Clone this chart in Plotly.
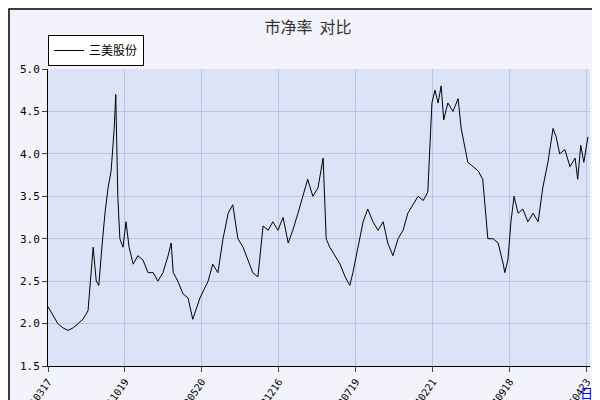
import plotly.graph_objects as go

# trading-day index and 市净率 values
day = [0, 10, 19, 29, 39, 49, 58, 68, 78, 82, 88, 94, 99, 105, 111, 117, 123, 129, 132, 136,
       140, 146, 152, 158, 166, 175, 185, 195, 205, 214, 224, 234, 240, 244, 253, 263, 273, 282, 288, 296,
       304, 312, 321, 331, 341, 351, 360, 370, 380, 390, 399, 409, 419, 429, 438, 448, 458, 468, 477, 487,
       497, 506, 516, 526, 536, 542, 549, 559, 569, 579, 588, 594, 604, 614, 623, 633, 643, 653, 662, 672,
       682, 692, 701, 711, 721, 731, 740, 748, 754, 760, 766, 771, 779, 789, 799, 805, 812, 818, 828, 838,
       847, 853, 857, 867, 877, 887, 890, 896, 902, 908, 916, 925, 935, 945, 955, 964, 974, 984, 990, 997,
       1007, 1017, 1027, 1032, 1038, 1044, 1052]
pb = [2.2, 2.1, 2.0, 1.95, 1.92, 1.95, 2.0, 2.05, 2.15, 2.5, 2.9, 2.5, 2.45, 2.9, 3.3, 3.6, 3.8, 4.3, 4.7, 3.5,
      3.0, 2.9, 3.2, 2.9, 2.7, 2.8, 2.75, 2.6, 2.6, 2.5, 2.6, 2.8, 2.95, 2.6, 2.5, 2.35, 2.3, 2.05, 2.15, 2.3,
      2.4, 2.5, 2.7, 2.6, 3.0, 3.3, 3.4, 3.0, 2.9, 2.75, 2.6, 2.55, 3.15, 3.1, 3.2, 3.1, 3.25, 2.95, 3.1, 3.3,
      3.5, 3.7, 3.5, 3.6, 3.95, 3.0, 2.9, 2.8, 2.7, 2.55, 2.45, 2.6, 2.9, 3.2, 3.35, 3.2, 3.1, 3.2, 2.95, 2.8,
      3.0, 3.1, 3.3, 3.4, 3.5, 3.45, 3.55, 4.6, 4.75, 4.6, 4.8, 4.4, 4.6, 4.5, 4.65, 4.3, 4.1, 3.9, 3.85, 3.8,
      3.7, 3.3, 3.0, 3.0, 2.95, 2.7, 2.6, 2.75, 3.2, 3.5, 3.3, 3.35, 3.2, 3.3, 3.2, 3.6, 3.9, 4.3, 4.2, 4.0,
      4.05, 3.85, 3.95, 3.7, 4.1, 3.9, 4.2]
tick_pos = [0, 150, 300, 450, 600, 750, 900, 1050]
tick_lab = ["20210317", "20211019", "20220520", "20221216", "20230719", "20240221", "20240918", "20250423"]

fig = go.Figure()
fig.add_trace(go.Scatter(x=day, y=pb, mode="lines", name="三美股份",
                         line=dict(color="black", width=1)))

fig.update_layout(
    width=600, height=400,
    margin=dict(l=40, r=18, t=61, b=42, autoexpand=False),
    paper_bgcolor="#f3f4fb", plot_bgcolor="#dde3f6",
    font=dict(family="DejaVu Sans Mono", size=11, color="black"),
    title=dict(text="市净率  对比", x=0.5, y=0.965, xanchor="center",
               font=dict(family="Noto Sans CJK SC", size=16, color="#333")),
    showlegend=True,
    legend=dict(x=0, y=1.01, xanchor="left", yanchor="bottom", bgcolor="white",
                bordercolor="black", borderwidth=1, itemwidth=30,
                font=dict(family="Noto Sans CJK SC", size=12)),
    xaxis=dict(range=[0, 1056], tickvals=tick_pos, ticktext=tick_lab, tickangle=-55,
               showgrid=True, gridcolor="#b4c4ec", ticks="outside", ticklen=5,
               showline=True, linecolor="black", zeroline=False, automargin=False,
               tickfont=dict(size=10)),
    yaxis=dict(range=[1.5, 5.0], dtick=0.5, tickformat=".1f", automargin=False,
               showgrid=True, gridcolor="#b4c4ec", ticks="outside", ticklen=5,
               showline=True, linecolor="black", zeroline=False),
    annotations=[dict(text="日期", xref="paper", yref="paper", x=1.005, y=-0.05,
                      xanchor="center", yanchor="top", showarrow=False,
                      font=dict(family="Noto Sans CJK SC", size=13, color="blue"))],
    shapes=[
        dict(type="rect", xref="paper", yref="paper", x0=1.0 + 18 / 542, x1=1.0 + 22 / 542,
             y0=-42 / 297 - 4 / 297, y1=1 + 55 / 297, fillcolor="#666", line_width=0, layer="below"),
        dict(type="rect", xref="paper", yref="paper", x0=-36 / 542, x1=1.0 + 22 / 542,
             y0=-42 / 297 - 4 / 297, y1=-42 / 297 + 1 / 297, fillcolor="#666", line_width=0, layer="below"),
        dict(type="rect", xref="paper", yref="paper", x0=-39 / 542, x1=1.0 + 17 / 542,
             y0=-41 / 297, y1=1 + 60 / 297, line=dict(color="black", width=1.5), layer="below"),
    ],
)
fig.write_html("out.html")
